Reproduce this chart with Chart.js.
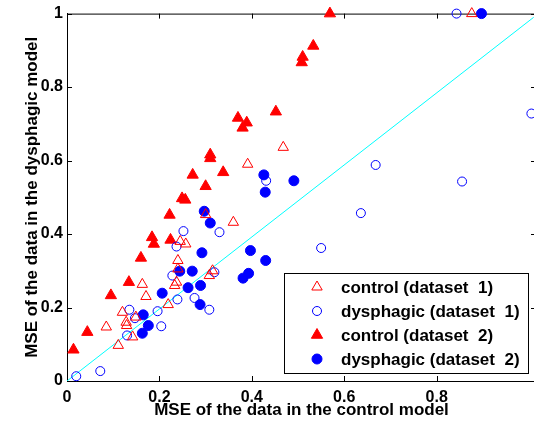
<!DOCTYPE html>
<html>
<head>
<meta charset="utf-8">
<script src="https://cdn.jsdelivr.net/npm/chart.js@4.4.1/dist/chart.umd.min.js"></script>
<style>
  html, body { margin: 0; padding: 0; background: #fff; overflow: hidden; }
</style>
</head>
<body>
<canvas id="mse" width="536" height="429"></canvas>
<script>
// MSE of each recording under the control model (x) and the dysphagic model (y)
const control1X = [0.085, 0.111, 0.120, 0.128, 0.129, 0.142, 0.149, 0.163, 0.171, 0.219, 0.233, 0.237, 0.240, 0.240, 0.245, 0.257, 0.300, 0.308, 0.315, 0.360, 0.391, 0.468, 0.876]
const control1Y = [0.147, 0.097, 0.187, 0.160, 0.151, 0.120, 0.174, 0.263, 0.230, 0.208, 0.260, 0.269, 0.305, 0.328, 0.380, 0.373, 0.453, 0.287, 0.300, 0.432, 0.590, 0.636, 1.000]

const dysph1X = [0.020, 0.072, 0.130, 0.135, 0.147, 0.196, 0.204, 0.228, 0.237, 0.239, 0.252, 0.276, 0.308, 0.319, 0.330, 0.431, 0.550, 0.636, 0.668, 0.855, 1.005, 0.843]
const dysph1Y = [0.013, 0.027, 0.124, 0.194, 0.171, 0.190, 0.149, 0.287, 0.366, 0.222, 0.408, 0.226, 0.194, 0.296, 0.405, 0.545, 0.362, 0.457, 0.588, 0.543, 0.728, 1.000]

const control2X = [0.014, 0.044, 0.095, 0.134, 0.160, 0.184, 0.188, 0.224, 0.222, 0.249, 0.256, 0.272, 0.300, 0.310, 0.310, 0.338, 0.370, 0.389, 0.380, 0.452, 0.508, 0.510, 0.533, 0.569]
const control2Y = [0.085, 0.133, 0.233, 0.269, 0.335, 0.391, 0.373, 0.384, 0.452, 0.497, 0.493, 0.561, 0.530, 0.616, 0.606, 0.568, 0.716, 0.703, 0.689, 0.733, 0.867, 0.882, 0.912, 1.000]

const dysph2X = [0.163, 0.165, 0.176, 0.206, 0.244, 0.262, 0.271, 0.288, 0.289, 0.292, 0.297, 0.310, 0.381, 0.393, 0.397, 0.430, 0.426, 0.429, 0.491, 0.897]
const dysph2Y = [0.130, 0.180, 0.151, 0.239, 0.299, 0.254, 0.299, 0.208, 0.260, 0.349, 0.462, 0.430, 0.280, 0.293, 0.355, 0.328, 0.561, 0.514, 0.545, 1.000]

// equal-error reference line
const diagX = [0, 1.01]
const diagY = [0, 0.99]

const xTicks = [0, 0.2, 0.4, 0.6, 0.8]
const yTicks = [0, 0.2, 0.4, 0.6, 0.8, 1]
const seriesLabels = [
  'control (dataset  1)',
  'dysphagic (dataset  1)',
  'control (dataset  2)',
  'dysphagic (dataset  2)'
]

const FONT = "'Liberation Sans', Arial, sans-serif"
const RED = '#ff0000'
const BLUE = '#0000ff'

const toPoints = (xs, ys) => xs.map((x, i) => ({ x, y: ys[i] }))

const marker = (label, xs, ys, style, color, filled, radius) => ({
  label,
  data: toPoints(xs, ys),
  pointStyle: style,
  pointRadius: radius,
  pointBorderWidth: 1,
  borderColor: color,
  pointBorderColor: color,
  pointBackgroundColor: filled ? color : 'rgba(0,0,0,0)',
  showLine: false,
  clip: false
})

// box, inward tick marks on all four sides
const frame = {
  id: 'frame',
  beforeDatasetsDraw(chart) {
    const { ctx, chartArea: a, scales } = chart
    const len = 5
    ctx.save()
    ctx.strokeStyle = '#000'
    ctx.lineWidth = 1
    ctx.beginPath()
    ctx.moveTo(a.left, a.top + 0.5)
    ctx.lineTo(a.right, a.top + 0.5)
    ctx.moveTo(a.right - 0.5, a.top)
    ctx.lineTo(a.right - 0.5, a.bottom)
    xTicks.forEach(v => {
      const px = Math.round(scales.x.getPixelForValue(v)) + 0.5
      ctx.moveTo(px, a.bottom)
      ctx.lineTo(px, a.bottom - len)
      ctx.moveTo(px, a.top)
      ctx.lineTo(px, a.top + len)
    })
    yTicks.forEach(v => {
      const py = Math.round(scales.y.getPixelForValue(v)) + 0.5
      ctx.moveTo(a.left, py)
      ctx.lineTo(a.left + len, py)
      ctx.moveTo(a.right, py)
      ctx.lineTo(a.right - len, py)
    })
    ctx.stroke()
    ctx.restore()
  }
}

// legend box in the lower right corner of the plot
const boxLegend = {
  id: 'boxLegend',
  afterDatasetsDraw(chart) {
    const { ctx, chartArea: a } = chart
    const w = 244, h = 100
    const x0 = 284, y0 = a.bottom - 108
    ctx.save()
    ctx.fillStyle = '#fff'
    ctx.fillRect(x0, y0, w, h)
    ctx.strokeStyle = '#000'
    ctx.lineWidth = 1
    ctx.strokeRect(x0 + 0.5, y0 + 0.5, w, h)
    ctx.font = 'bold 17px ' + FONT
    ctx.textBaseline = 'middle'
    ctx.textAlign = 'left'
    seriesLabels.forEach((text, i) => {
      const ds = chart.data.datasets[i]
      const y = y0 + 14 + i * 24
      ctx.fillStyle = ds.pointBackgroundColor
      ctx.strokeStyle = ds.pointBorderColor
      ctx.lineWidth = 1
      Chart.helpers.drawPoint(ctx, {
        pointStyle: ds.pointStyle, radius: ds.pointRadius, borderWidth: 1, rotation: 0
      }, x0 + 33, y)
      ctx.fillStyle = '#000'
      ctx.fillText(text, x0 + 57, y + 1)
    })
    ctx.restore()
  }
}

new Chart(document.getElementById('mse').getContext('2d'), {
  type: 'scatter',
  data: {
    datasets: [
      marker(seriesLabels[0], control1X, control1Y, 'triangle', RED, false, 6),
      marker(seriesLabels[1], dysph1X, dysph1Y, 'circle', BLUE, false, 4.5),
      marker(seriesLabels[2], control2X, control2Y, 'triangle', RED, true, 6.5),
      marker(seriesLabels[3], dysph2X, dysph2Y, 'circle', BLUE, true, 5),
      {
        label: 'y = x',
        data: toPoints(diagX, diagY),
        showLine: true,
        borderColor: '#00ffff',
        borderWidth: 1,
        pointRadius: 0
      }
    ]
  },
  options: {
    responsive: false,
    animation: false,
    layout: { autoPadding: false, padding: { top: 12, right: 0, left: 0, bottom: 0 } },
    plugins: { legend: { display: false }, tooltip: { enabled: false } },
    scales: {
      x: {
        type: 'linear',
        min: 0,
        max: 1.015,
        afterBuildTicks: s => { s.ticks = xTicks.map(value => ({ value })) },
        afterFit: s => { s.height = 48 },
        grid: { display: false, drawTicks: false },
        border: { display: true, color: '#000', width: 1 },
        ticks: {
          color: '#000',
          padding: 7,
          maxRotation: 0,
          font: { family: FONT, size: 16, weight: 'bold' },
          callback: v => String(v)
        },
        title: {
          display: true,
          text: 'MSE of the data in the control model',
          color: '#000',
          font: { family: FONT, size: 17, weight: 'bold' },
          padding: { top: 0, bottom: 8 }
        }
      },
      y: {
        type: 'linear',
        min: 0,
        max: 1,
        afterBuildTicks: s => { s.ticks = yTicks.map(value => ({ value })) },
        afterFit: s => { s.width = 67 },
        grid: { display: false, drawTicks: false },
        border: { display: true, color: '#000', width: 1 },
        ticks: {
          color: '#000',
          padding: 4,
          font: { family: FONT, size: 16, weight: 'bold' },
          callback: v => String(v)
        },
        title: {
          display: true,
          text: 'MSE of the data in the dysphagic model',
          color: '#000',
          font: { family: FONT, size: 17, weight: 'bold' },
          padding: { top: 22, bottom: 0 }
        }
      }
    }
  },
  plugins: [frame, boxLegend]
})
</script>
</body>
</html>
